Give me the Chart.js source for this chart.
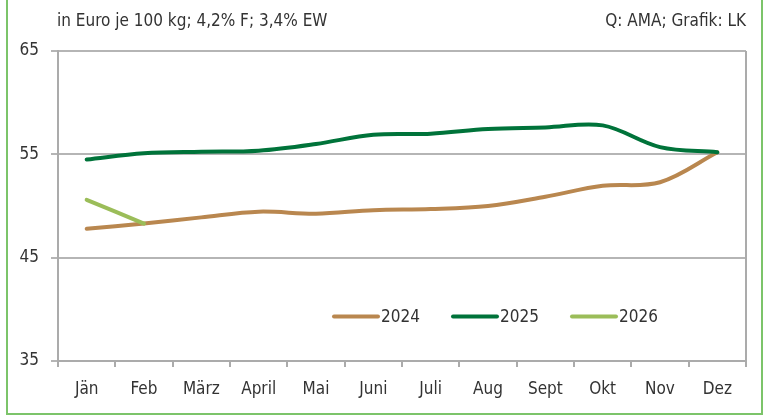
<!DOCTYPE html>
<html>
<head>
<meta charset="utf-8">
<script src="https://cdn.jsdelivr.net/npm/chart.js@4/dist/chart.umd.min.js"></script>
<style>
    html, body { margin: 0; padding: 0; background: #fff; }
    #wrap { position: relative; width: 770px; height: 420px; }
    #frame { position: absolute; left: 6px; top: -4px; width: 757px; height: 419px; border: 2px solid #7cc46a; border-top: none; box-sizing: border-box; }
</style>
</head>
<body>
<div id="wrap">
    <div id="frame"></div>
    <canvas id="chart" width="770" height="420"></canvas>
</div>
<script>
const FONT = "'DejaVu Sans Condensed', 'DejaVu Sans', sans-serif";
const FONT_STRETCH = 'condensed';

const months = ['Jän', 'Feb', 'März', 'April', 'Mai', 'Juni', 'Juli', 'Aug', 'Sept', 'Okt', 'Nov', 'Dez'];
const values2024 = [47.8, 48.3, 48.9, 49.45, 49.25, 49.6, 49.7, 50.0, 50.9, 51.95, 52.3, 55.2];
const values2025 = [54.5, 55.1, 55.25, 55.35, 56.0, 56.9, 57.0, 57.45, 57.6, 57.8, 55.7, 55.2];
const values2026 = [50.6, 48.3];

const seriesNames = ['2024', '2025', '2026'];
const seriesColors = ['#b9874f', '#00733a', '#9bbd59'];

const yMin = 35, yMax = 65, yStep = 10;
const subtitle = 'in Euro je 100 kg; 4,2% F; 3,4% EW';
const source = 'Q: AMA; Grafik: LK';

/**
 * draws subtitle, source, plot frame and legend inside the plot area
 */
const decorPlugin = {
    id: 'decor',
    beforeDatasetsDraw(chart) {
        const { ctx, chartArea } = chart;
        ctx.save();
        ctx.strokeStyle = '#ababab';
        ctx.lineWidth = 2;
        ctx.beginPath();
        ctx.moveTo(chartArea.right, chartArea.top);
        ctx.lineTo(chartArea.right, chartArea.bottom + 6);
        ctx.stroke();
        ctx.restore();
    },
    afterDraw(chart) {
        const { ctx, chartArea } = chart;
        ctx.save();
        ctx.fillStyle = '#333';
        ctx.font = `${FONT_STRETCH} 17px ${FONT}`;
        ctx.textBaseline = 'middle';
        ctx.textAlign = 'left';
        ctx.fillText(subtitle, chartArea.left - 1, 22);
        ctx.textAlign = 'right';
        ctx.fillText(source, chartArea.right, 22);

        // legend
        const legendY = chart.scales.y.getPixelForValue(39.3);
        const itemX = [334, 453, 572];
        ctx.lineCap = 'round';
        ctx.lineWidth = 4;
        ctx.textAlign = 'left';
        chart.data.datasets.forEach((ds, i) => {
            ctx.strokeStyle = ds.borderColor;
            ctx.beginPath();
            ctx.moveTo(itemX[i], legendY);
            ctx.lineTo(itemX[i] + 44, legendY);
            ctx.stroke();
            ctx.fillStyle = '#333';
            ctx.fillText(ds.label, itemX[i] + 47, legendY + 1);
        });
        ctx.restore();
    }
};

const datasets = [values2024, values2025, values2026].map((vals, i) => ({
    label: seriesNames[i],
    data: vals,
    borderColor: seriesColors[i],
    backgroundColor: seriesColors[i],
    borderWidth: 4,
    pointRadius: 0,
    tension: 0.35,
    borderCapStyle: 'round',
    order: 2 - i,
}));

new Chart(document.getElementById('chart'), {
    type: 'line',
    data: {
        labels: months,
        datasets: datasets,
    },
    options: {
        responsive: false,
        animation: false,
        layout: {
            padding: { top: 51, right: 24, left: 0, bottom: 0 },
        },
        plugins: {
            legend: { display: false },
            tooltip: { enabled: false },
        },
        scales: {
            x: {
                offset: true,
                grid: {
                    offset: true,
                    drawOnChartArea: false,
                    color: '#ababab',
                    lineWidth: 2,
                    tickLength: 6,
                },
                border: { color: '#ababab', width: 2 },
                ticks: {
                    color: '#333',
                    font: { family: FONT, size: 17, weight: FONT_STRETCH },
                    padding: 12,
                    maxRotation: 0,
                },
                afterFit(scale) { scale.height = 59; },
            },
            y: {
                min: yMin,
                max: yMax,
                grid: {
                    color: '#b5b5b5',
                    lineWidth: 2,
                    tickLength: 7,
                },
                border: { color: '#ababab', width: 2 },
                ticks: {
                    stepSize: yStep,
                    color: '#333',
                    font: { family: FONT, size: 17, weight: FONT_STRETCH },
                    padding: 12,
                },
                afterFit(scale) { scale.width = 58; },
            },
        },
    },
    plugins: [decorPlugin],
});
</script>
</body>
</html>
